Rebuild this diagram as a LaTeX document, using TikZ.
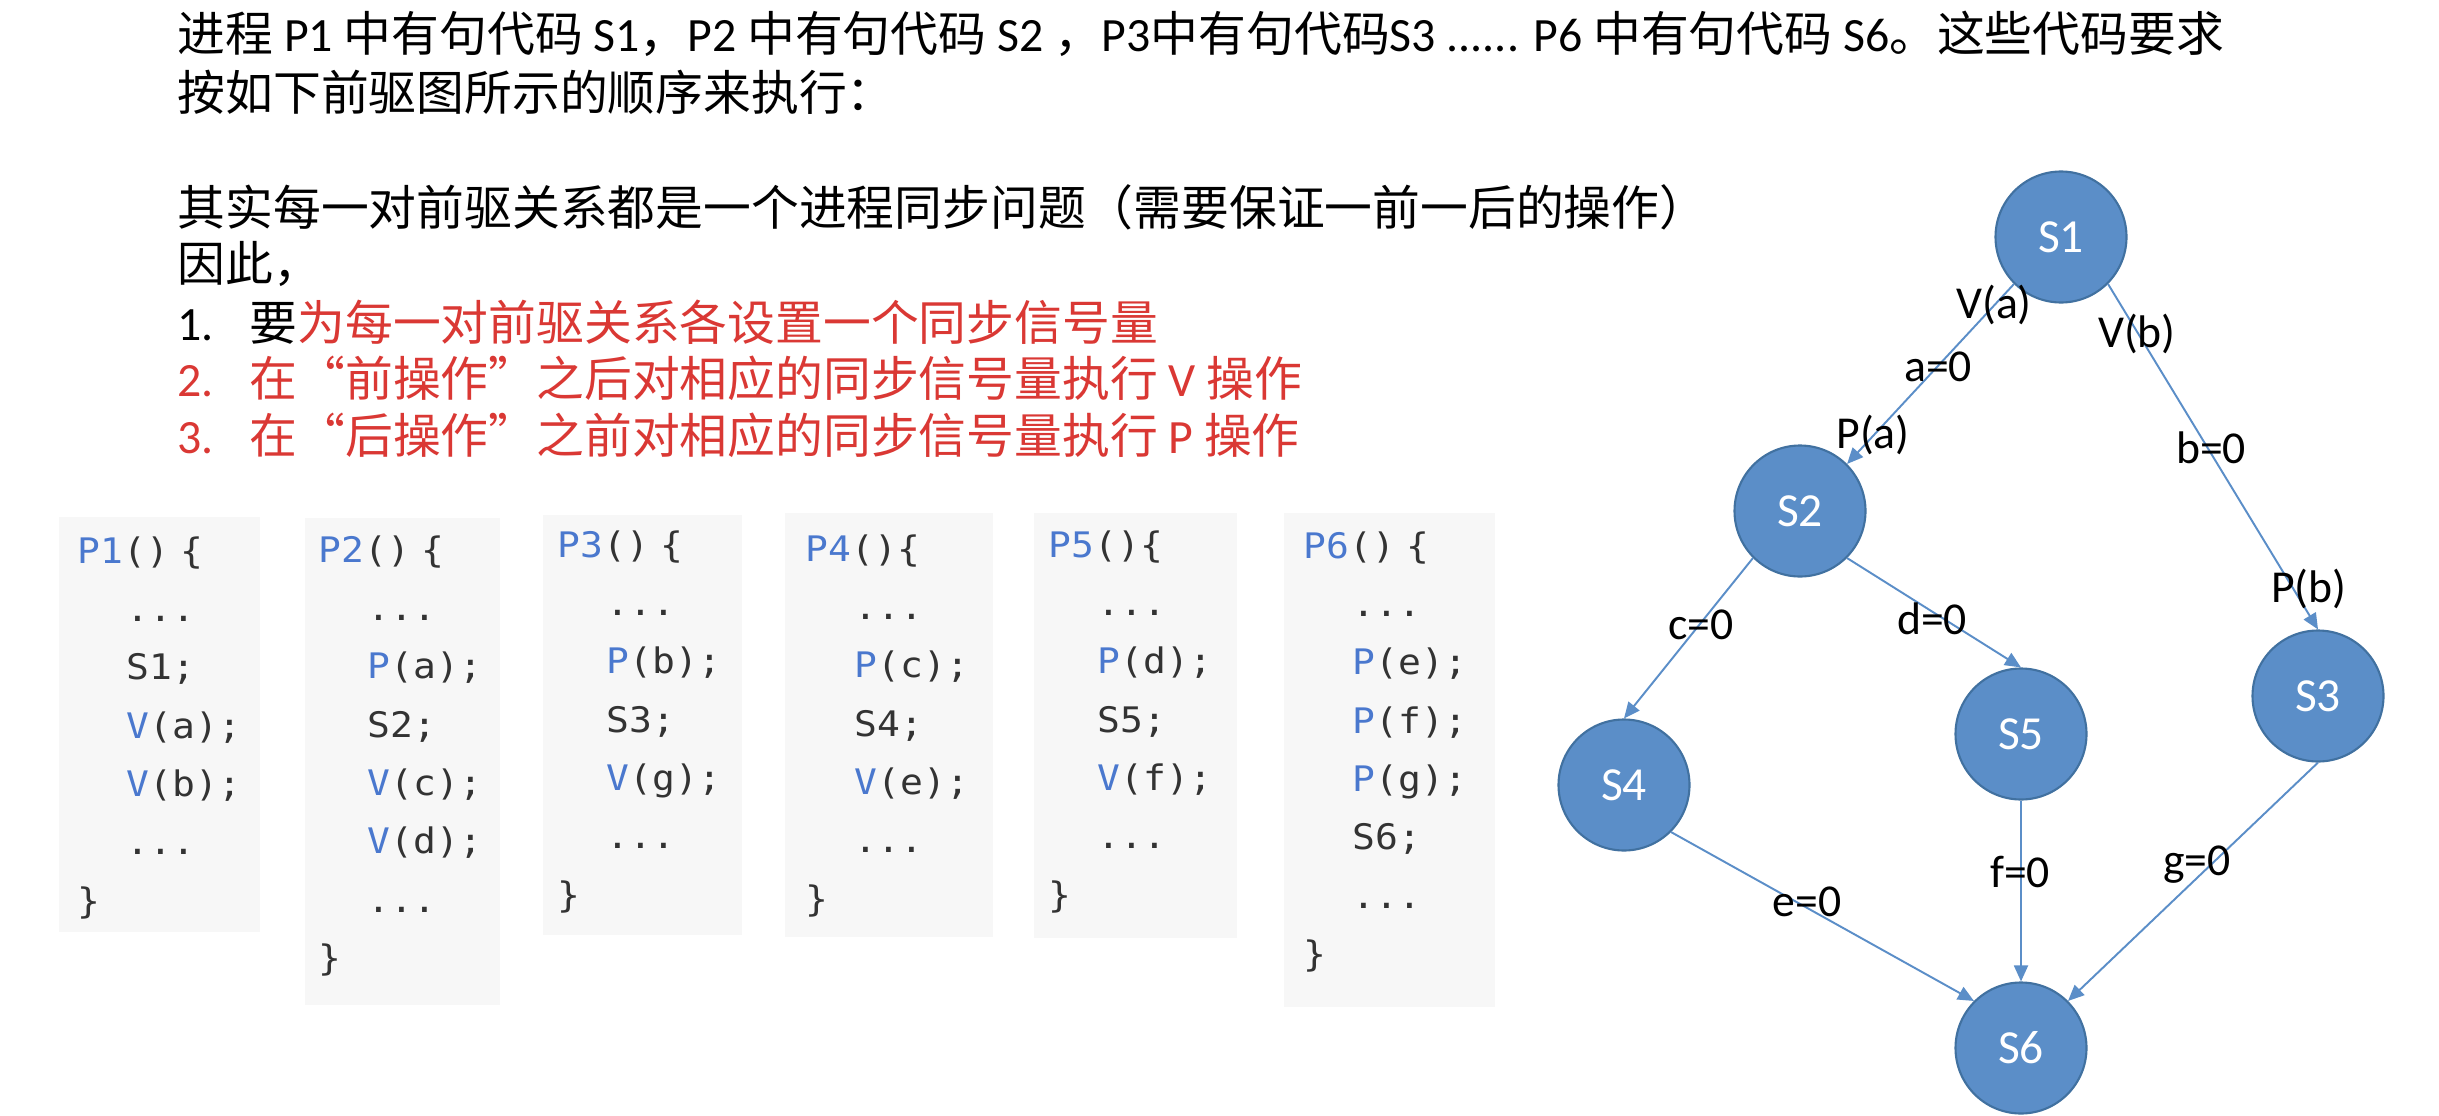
\documentclass[tikz,border=0pt]{standalone}
\usepackage{fontspec}
\setmainfont{Carlito}
\newfontfamily\cjk{Noto Sans CJK SC}
\newfontfamily\codefont[FakeStretch=1.08]{DejaVu Sans Mono}
\usetikzlibrary{arrows.meta}
\definecolor{hlred}{RGB}{218,56,52}
\definecolor{kwblue}{RGB}{74,120,206}
\definecolor{codegray}{RGB}{51,51,51}
\definecolor{codebg}{RGB}{247,247,247}
\definecolor{nodefill}{RGB}{91,142,200}
\definecolor{nodeline}{RGB}{65,113,160}
\definecolor{edgeblue}{RGB}{91,142,200}
\newcommand{\zh}[1]{{\cjk #1}}
\newcommand{\kw}[1]{\textcolor{kwblue}{#1}}
\newcommand{\ind}{\hspace*{4.9mm}}

\begin{document}
\begin{tikzpicture}[x=0.1mm,y=-0.1mm,
  txt/.style={anchor=base west,inner sep=0pt,font=\fontsize{13.6}{16}\selectfont},
  code/.style={anchor=base west,inner sep=0pt,text width=3cm,align=left,
    text=codegray,font=\codefont\fontsize{10}{16.6}\selectfont},
  snode/.style={circle,minimum size=13.1mm,inner sep=0pt,fill=nodefill,
    draw=nodeline,line width=0.6pt,text=white,font=\fontsize{13.5}{16}\selectfont},
  conn/.style={draw=edgeblue,line width=0.55pt,-{Triangle[length=1.6mm,width=1.4mm]}},
  lbl/.style={inner sep=0pt,font=\fontsize{13}{15}\selectfont}]
\useasboundingbox (0,0) rectangle (2439,1116);
\fill[white] (0,0) rectangle (2439,1116);
%intro text
\node[txt] (l1) at (177,51) {\zh{进程} P1 \zh{中有句代码} S1\zh{，}P2 \zh{中有句代码} S2 \zh{，}P3\zh{中有句代码}S3 ...... P6 \zh{中有句代码} S6\zh{。这些代码要求}};
\node[txt] (l2) at (177,110) {\zh{按如下前驱图所示的顺序来执行：}};
\node[txt] (l3) at (177,225) {\zh{其实每一对前驱关系都是一个进程同步问题（需要保证一前一后的操作）}};
\node[txt] (l4) at (177,281) {\zh{因此，}};
\node[txt] (l5) at (177,340) {\makebox[7.2mm][l]{1.}\zh{要}\textcolor{hlred}{\zh{为每一对前驱关系各设置一个同步信号量}}};
\node[txt,text=hlred] (l6) at (177,396) {\makebox[7.2mm][l]{2.}\zh{在“前操作”之后对相应的同步信号量执行} V \zh{操作}};
\node[txt,text=hlred] (l7) at (177,453) {\makebox[7.2mm][l]{3.}\zh{在“后操作”之前对相应的同步信号量执行} P \zh{操作}};
%code of the processes
\fill[codebg] (59,517) rectangle (260,932);
\fill[codebg] (305,518) rectangle (500,1005);
\fill[codebg] (543,515) rectangle (742,935);
\fill[codebg] (785,513) rectangle (993,937);
\fill[codebg] (1034,513) rectangle (1237,938);
\fill[codebg] (1284,513) rectangle (1495,1007);
\node[code] (p1) at (77,563) {\kw{P1}() \{\\\ind...\\\ind S1;\\\ind\kw{V}(a);\\\ind\kw{V}(b);\\\ind...\\\}};
\node[code] (p2) at (318,562) {\kw{P2}() \{\\\ind...\\\ind\kw{P}(a);\\\ind S2;\\\ind\kw{V}(c);\\\ind\kw{V}(d);\\\ind...\\\}};
\node[code] (p3) at (557,557) {\kw{P3}() \{\\\ind...\\\ind\kw{P}(b);\\\ind S3;\\\ind\kw{V}(g);\\\ind...\\\}};
\node[code] (p4) at (805,561) {\kw{P4}()\{\\\ind...\\\ind\kw{P}(c);\\\ind S4;\\\ind\kw{V}(e);\\\ind...\\\}};
\node[code] (p5) at (1048,557) {\kw{P5}()\{\\\ind...\\\ind\kw{P}(d);\\\ind S5;\\\ind\kw{V}(f);\\\ind...\\\}};
\node[code] (p6) at (1303,558) {\kw{P6}() \{\\\ind...\\\ind\kw{P}(e);\\\ind\kw{P}(f);\\\ind\kw{P}(g);\\\ind S6;\\\ind...\\\}};
%precedence graph
\node[snode] (s1) at (2061,237) {S1};
\node[snode] (s2) at (1800,511) {S2};
\node[snode] (s3) at (2318,696) {S3};
\node[snode] (s4) at (1624,785) {S4};
\node[snode] (s5) at (2021,734) {S5};
\node[snode] (s6) at (2021,1048) {S6};
\draw[conn] (s1.south west) -- (s2.north east);
\draw[conn] (s1.south east) -- (s3.north);
\draw[conn] (s2.south west) -- (s4.north);
\draw[conn] (s2.south east) -- (s5.north);
\draw[conn] (s4.south east) -- (s6.north west);
\draw[conn] (s5.south) -- (s6.north);
\draw[conn] (s3.south) -- (s6.north east);
\node[lbl] (va) at (1994,305) {V(a)};
\node[lbl] (a0) at (1938,367) {a=0};
\node[lbl] (pa) at (1873,435) {P(a)};
\node[lbl] (vb) at (2137,334) {V(b)};
\node[lbl] (b0) at (2211,448) {b=0};
\node[lbl] (pb) at (2309,589) {P(b)};
\node[lbl] (c0) at (1701,625) {c=0};
\node[lbl] (d0) at (1932,619) {d=0};
\node[lbl] (e0) at (1807,902) {e=0};
\node[lbl] (f0) at (2020,872) {f=0};
\node[lbl] (g0) at (2197,865) {g=0};
\end{tikzpicture}
\end{document}
